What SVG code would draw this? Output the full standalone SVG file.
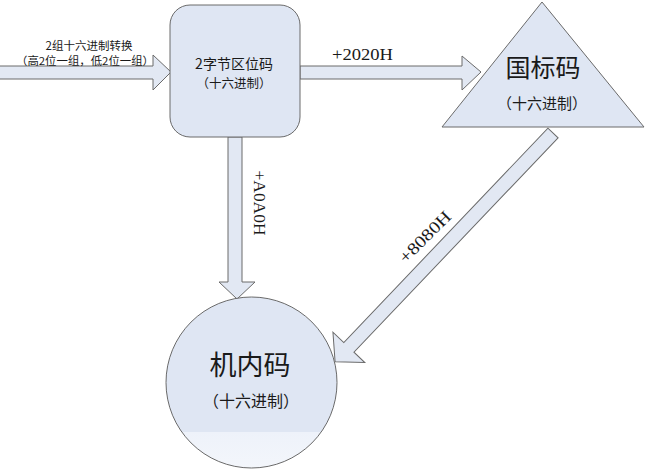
<svg xmlns="http://www.w3.org/2000/svg" width="645" height="470" viewBox="0 0 645 470">
<defs>
<style>
.node{fill:#dfe6f3;stroke:#6a6a6a;stroke-width:1}
.arrow{fill:#e2e8f3;stroke:#6a6a6a;stroke-width:1}
.cjk{font-family:"Noto Sans CJK SC","Noto Sans",sans-serif;fill:#1a1a1a}
.lat{font-family:"Liberation Serif","Noto Sans CJK SC",serif;fill:#1a1a1a;font-size:17px}
</style>
<linearGradient id="cg" x1="0" y1="0" x2="0" y2="1">
<stop offset="0" stop-color="#dfe6f3"/>
<stop offset="0.79" stop-color="#dfe6f3"/>
<stop offset="0.79" stop-color="#eef2fa"/>
<stop offset="1" stop-color="#f3f6fb"/>
</linearGradient>
</defs>
<rect width="645" height="470" fill="#ffffff"/>
<g id="connectors">
<g id="c-input">
<polygon class="arrow" points="-2,66 153,66 153,55 171,72 153,90 153,79 -2,79"/>
<text class="cjk" x="89" y="50" font-size="11.5" text-anchor="middle">2组十六进制转换</text>
<text class="cjk" x="85" y="65" font-size="11" text-anchor="middle" textLength="138" lengthAdjust="spacingAndGlyphs">（高2位一组，低2位一组）</text>
</g>
<g id="c-2020">
<polygon class="arrow" points="300,66 462,66 462,56 481,72 462,90 462,79 300,79"/>
<text class="lat" x="332" y="60" textLength="61" lengthAdjust="spacingAndGlyphs">+2020H</text>
</g>
<g id="c-a0a0">
<polygon class="arrow" points="228,137 242,137 242,282 255,282 237,299 219,282 228,282"/>
<text class="lat" x="0" y="0" text-anchor="middle" textLength="65" lengthAdjust="spacingAndGlyphs" transform="translate(254,203) rotate(90)">+A0A0H</text>
</g>
<g id="c-8080">
<polygon class="arrow" points="0,-7 296,-7 296,-22 316,0 296,22 296,7 0,7" transform="translate(553,133) rotate(133.6)"/>
<text class="lat" x="0" y="0" text-anchor="middle" textLength="66" lengthAdjust="spacingAndGlyphs" transform="translate(429,241) rotate(-45)">+8080H</text>
</g>
</g>
<g id="node-quwei">
<rect class="node" x="170" y="5" width="130" height="132" rx="20" ry="20"/>
<text class="cjk" x="234" y="69" font-size="14" text-anchor="middle">2字节区位码</text>
<text class="cjk" x="234" y="88" font-size="12.5" text-anchor="middle">（十六进制）</text>
</g>
<g id="node-guobiao">
<polygon class="node" points="542,2 442,127 644,127"/>
<text class="cjk" x="543" y="77" font-size="25" text-anchor="middle">国标码</text>
<text class="cjk" x="542" y="109" font-size="15" text-anchor="middle">（十六进制）</text>
</g>
<g id="node-jinei">
<circle cx="251.5" cy="382.5" r="85.5" fill="url(#cg)" stroke="#6a6a6a" stroke-width="1"/>
<text class="cjk" x="250" y="375" font-size="27" text-anchor="middle">机内码</text>
<text class="cjk" x="251" y="407" font-size="16" text-anchor="middle">（十六进制）</text>
</g>
</svg>
